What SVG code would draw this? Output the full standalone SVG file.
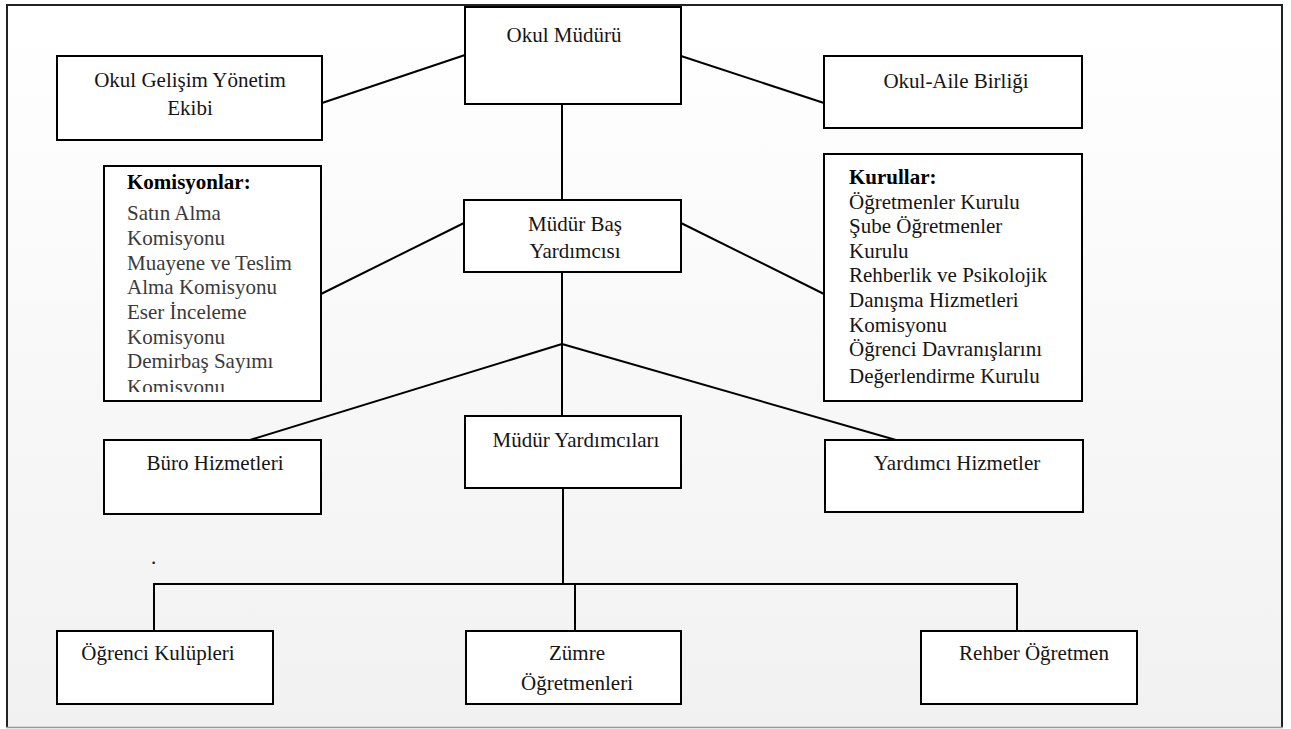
<svg xmlns="http://www.w3.org/2000/svg" width="1291" height="729" viewBox="0 0 1291 729">
<defs>
<linearGradient id="bg" x1="0" y1="0" x2="0" y2="1">
<stop offset="0" stop-color="#ffffff"/>
<stop offset="1" stop-color="#f1f1f1"/>
</linearGradient>
<clipPath id="clipKom"><rect x="104" y="166" width="217" height="226"/></clipPath>
<clipPath id="clipKur"><rect x="824" y="154" width="258" height="246"/></clipPath>
<style>
.box{fill:#ffffff;stroke:#000;stroke-width:2}
.t{font-family:"Liberation Serif","Times New Roman",serif;font-size:21px;fill:#151515}
.c{text-anchor:middle}
.g{fill:#3a3a3a}
.b{font-weight:bold;fill:#000}
.ln{stroke:#000;stroke-width:2;fill:none}
</style>
</defs>
<rect x="0" y="0" width="1291" height="729" fill="#ffffff"/>
<rect x="7" y="5" width="1275" height="722" fill="url(#bg)"/>
<g id="frame">
<line x1="6" y1="5" x2="1283" y2="5" stroke="#222" stroke-width="2"/>
<line x1="7" y1="4" x2="7" y2="728" stroke="#222" stroke-width="2"/>
<line x1="1282" y1="4" x2="1282" y2="728" stroke="#222" stroke-width="2"/>
<line x1="6" y1="727.5" x2="1283" y2="727.5" stroke="#999" stroke-width="1.5"/>
</g>
<g id="connectors">
<line class="ln" x1="322" y1="103" x2="465" y2="55"/>
<line class="ln" x1="681" y1="56" x2="824" y2="103"/>
<line class="ln" x1="562" y1="104" x2="562" y2="200"/>
<line class="ln" x1="464" y1="223" x2="321" y2="294"/>
<line class="ln" x1="681" y1="223" x2="824" y2="294"/>
<line class="ln" x1="562" y1="272" x2="562" y2="416"/>
<line class="ln" x1="562" y1="344" x2="250" y2="440"/>
<line class="ln" x1="562" y1="344" x2="896" y2="440"/>
<line class="ln" x1="563" y1="488" x2="563" y2="584"/>
<polyline class="ln" points="154,631 154,584 1017,584 1017,631"/>
<line class="ln" x1="575" y1="584" x2="575" y2="631"/>
</g>
<g id="okul-mudur">
<rect class="box" x="465" y="7" width="216" height="97"/>
<text class="t c" x="564" y="42">Okul Müdürü</text>
</g>
<g id="okul-gelisim">
<rect class="box" x="57" y="56" width="265" height="84"/>
<text class="t c" x="190" y="87">Okul Gelişim Yönetim</text>
<text class="t c" x="190" y="115">Ekibi</text>
</g>
<g id="okul-aile">
<rect class="box" x="824" y="56" width="258" height="72"/>
<text class="t c" x="956" y="88">Okul-Aile Birliği</text>
</g>
<g id="komisyonlar">
<rect class="box" x="104" y="166" width="217" height="235"/>
<g clip-path="url(#clipKom)">
<text class="t b" x="127" y="189">Komisyonlar:</text>
<text class="t g" x="127" y="220">Satın Alma</text>
<text class="t g" x="127" y="245">Komisyonu</text>
<text class="t g" x="127" y="270">Muayene ve Teslim</text>
<text class="t g" x="127" y="294">Alma Komisyonu</text>
<text class="t g" x="127" y="319">Eser İnceleme</text>
<text class="t g" x="127" y="344">Komisyonu</text>
<text class="t g" x="127" y="368">Demirbaş Sayımı</text>
<text class="t g" x="127" y="394">Komisyonu</text>
</g>
</g>
<g id="mudur-bas">
<rect class="box" x="464" y="200" width="217" height="72"/>
<text class="t c" x="575" y="231">Müdür Baş</text>
<text class="t c" x="575" y="258">Yardımcısı</text>
</g>
<g id="kurullar">
<rect class="box" x="824" y="154" width="258" height="247"/>
<g clip-path="url(#clipKur)">
<text class="t b" x="849" y="184">Kurullar:</text>
<text class="t" x="849" y="209">Öğretmenler Kurulu</text>
<text class="t" x="849" y="233">Şube Öğretmenler</text>
<text class="t" x="849" y="258">Kurulu</text>
<text class="t" x="849" y="282">Rehberlik ve Psikolojik</text>
<text class="t" x="849" y="307">Danışma Hizmetleri</text>
<text class="t" x="849" y="332">Komisyonu</text>
<text class="t" x="849" y="356">Öğrenci Davranışlarını</text>
<text class="t" x="849" y="383">Değerlendirme Kurulu</text>
</g>
</g>
<g id="buro">
<rect class="box" x="104" y="440" width="217" height="74"/>
<text class="t c" x="215" y="470">Büro Hizmetleri</text>
</g>
<g id="mudur-yard">
<rect class="box" x="465" y="416" width="216" height="72"/>
<text class="t c" x="576" y="447">Müdür Yardımcıları</text>
</g>
<g id="yardimci">
<rect class="box" x="825" y="440" width="258" height="72"/>
<text class="t c" x="957" y="470">Yardımcı Hizmetler</text>
</g>
<text class="t" x="151" y="564">.</text>
<g id="ogrenci">
<rect class="box" x="57" y="631" width="216" height="73"/>
<text class="t c" x="158" y="660">Öğrenci Kulüpleri</text>
</g>
<g id="zumre">
<rect class="box" x="466" y="631" width="215" height="73"/>
<text class="t c" x="577" y="660">Zümre</text>
<text class="t c" x="577" y="690">Öğretmenleri</text>
</g>
<g id="rehber">
<rect class="box" x="921" y="631" width="216" height="73"/>
<text class="t c" x="1034" y="660">Rehber Öğretmen</text>
</g>
</svg>
